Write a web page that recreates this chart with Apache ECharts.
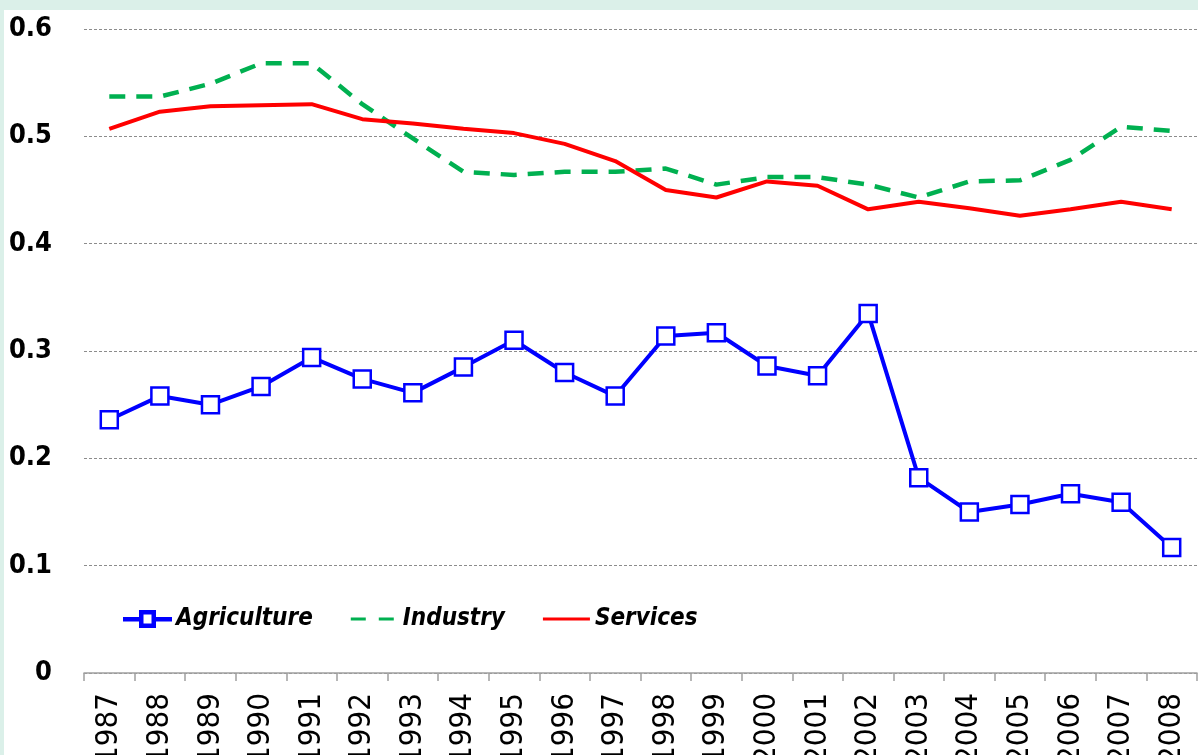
<!DOCTYPE html>
<html>
<head>
<meta charset="utf-8">
<script src="https://cdn.jsdelivr.net/npm/echarts@6/dist/echarts.min.js"></script>
<style>
html,body{margin:0;padding:0;background:#dbf0e9;width:1198px;height:755px;overflow:hidden;}
#c{position:absolute;left:4px;top:10px;width:1194px;height:745px;background:#ffffff;}
</style>
</head>
<body>
<div id="c"></div>
<script>
const years = ['1987','1988','1989','1990','1991','1992','1993','1994','1995','1996','1997','1998','1999','2000','2001','2002','2003','2004','2005','2006','2007','2008'];
const agriculture = [0.236,0.258,0.250,0.267,0.294,0.274,0.261,0.285,0.310,0.280,0.258,0.314,0.317,0.286,0.277,0.335,0.182,0.150,0.157,0.167,0.159,0.117];
const industry = [0.537,0.537,0.549,0.568,0.568,0.530,0.498,0.467,0.464,0.467,0.467,0.470,0.455,0.462,0.462,0.455,0.443,0.458,0.459,0.478,0.509,0.505];
const services = [0.507,0.523,0.528,0.529,0.530,0.516,0.512,0.507,0.503,0.493,0.477,0.450,0.443,0.458,0.454,0.432,0.439,0.433,0.426,0.432,0.439,0.432];
const yTicks = {min:0, max:0.6, interval:0.1};

const FONT = '"Liberation Sans Narrow","DejaVu Sans Condensed","Roboto Condensed",sans-serif';
const chart = echarts.init(document.getElementById('c'), null, {renderer:'canvas'});
chart.setOption({
  animation:false,
  backgroundColor:'#ffffff',
  grid:{left:80, right:1, top:19, bottom:82, containLabel:false, outerBoundsMode:'none'},
  legend:{
    left:114, top:592, itemWidth:47, itemHeight:16, itemGap:38,
    textStyle:{fontFamily:FONT, fontSize:24, fontStyle:'italic', fontWeight:'bold', color:'#000'},
    data:[
      {name:'Agriculture', icon:'path://M0,7 L16,7 L16,9.5 L0,9.5 Z M31,7 L47,7 L47,9.5 L31,9.5 Z M16,0 L31,0 L31,2.5 L16,2.5 Z M16,13.5 L31,13.5 L31,16 L16,16 Z M16,0 L18.5,0 L18.5,16 L16,16 Z M28.5,0 L31,0 L31,16 L28.5,16 Z', itemStyle:{color:'#0000ff'}},
      {name:'Industry', icon:'path://M0,6.5 L15,6.5 L15,9.5 L0,9.5 Z M0,0 L0.01,0 L0.01,0.01 Z M47,16 L46.99,16 L46.99,15.99 Z M28,6.5 L43,6.5 L43,9.5 L28,9.5 Z', itemStyle:{color:'#00b050'}},
      {name:'Services', icon:'path://M0,6.5 L47,6.5 L47,9.5 L0,9.5 Z M0,0 L0.01,0 L0.01,0.01 Z M47,16 L46.99,16 L46.99,15.99 Z', itemStyle:{color:'#ff0000'}}
    ]
  },
  xAxis:{
    type:'category', data:years, boundaryGap:true,
    axisLine:{lineStyle:{color:'#a0a0a0', width:1.5}},
    axisTick:{show:true, length:8, lineStyle:{color:'#a0a0a0', width:1.5}},
    axisLabel:{rotate:90, margin:20, fontFamily:FONT, fontSize:31, color:'#000', interval:0}
  },
  yAxis:{
    type:'value', min:yTicks.min, max:yTicks.max, interval:yTicks.interval,
    axisLine:{show:false}, axisTick:{show:false},
    splitLine:{lineStyle:{color:'#8c8c8c', type:[3,2], width:1}},
    axisLabel:{margin:32, fontFamily:FONT, fontSize:27, fontWeight:'bold', color:'#000',
      formatter:function(v){return v===0?'0':v.toFixed(1);}}
  },
  series:[
    {name:'Agriculture', type:'line', data:agriculture, symbol:'rect', symbolSize:17,
      itemStyle:{color:'#ffffff', borderColor:'#0000ff', borderWidth:2.5},
      lineStyle:{color:'#0000ff', width:4}, z:3},
    {name:'Industry', type:'line', data:industry, symbol:'none',
      itemStyle:{color:'#00b050'},
      lineStyle:{color:'#00b050', width:4.5, type:[16,11]}},
    {name:'Services', type:'line', data:services, symbol:'none',
      itemStyle:{color:'#ff0000'},
      lineStyle:{color:'#ff0000', width:4}}
  ]
});
</script>
</body>
</html>
